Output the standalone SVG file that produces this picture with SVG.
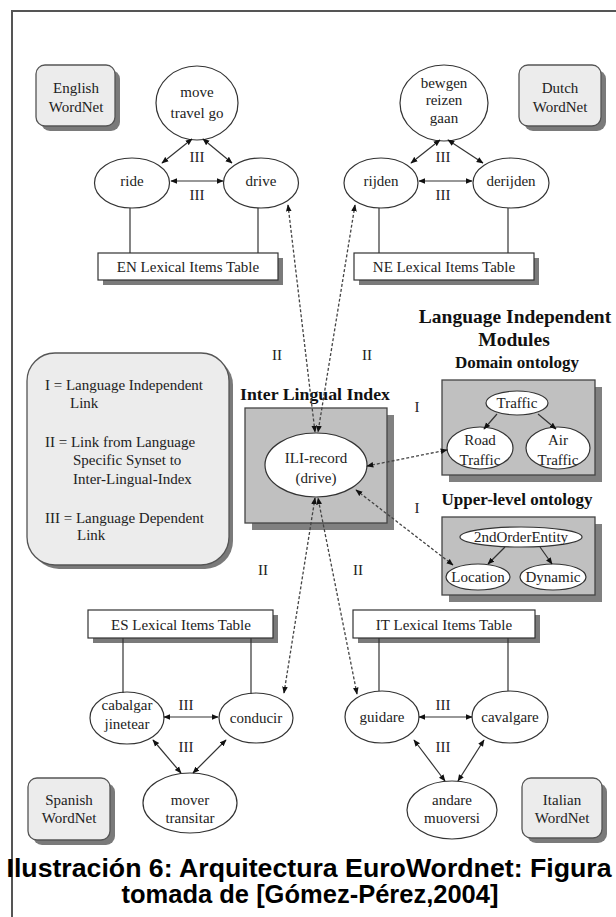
<svg xmlns="http://www.w3.org/2000/svg" width="616" height="917" viewBox="0 0 616 917">
<style>
.t{font-family:"Liberation Serif","Times New Roman",serif;font-size:15px;fill:#222;text-anchor:middle}
.tl{font-family:"Liberation Serif","Times New Roman",serif;font-size:15px;fill:#222}
.b{font-family:"Liberation Serif","Times New Roman",serif;font-weight:bold;fill:#111;text-anchor:middle}
.cap{font-family:"Liberation Sans",Arial,sans-serif;font-weight:bold;font-size:25.5px;fill:#000;text-anchor:middle}
.ell{fill:#fff;stroke:#333;stroke-width:1.2}
.wn{fill:#ececec;stroke:#555;stroke-width:1.3}
.sh{fill:#7a7a7a}
.tab{fill:#fff;stroke:#333;stroke-width:1.2}
.gbox{fill:#c0c0c0;stroke:#444;stroke-width:1.3}
.gsh{fill:#808080}
.ln{stroke:#333;stroke-width:1.2;fill:none}
.ar{stroke:#333;stroke-width:1.2;fill:none;marker-start:url(#ah);marker-end:url(#ah)}
.ar1{stroke:#333;stroke-width:1.2;fill:none;marker-end:url(#ah)}
.da{stroke:#444;stroke-width:1.3;stroke-dasharray:3 2;fill:none;marker-start:url(#ah);marker-end:url(#ah)}
</style>
<defs>
<marker id="ah" viewBox="0 0 10 10" refX="9" refY="5" markerWidth="7" markerHeight="7" markerUnits="userSpaceOnUse" orient="auto-start-reverse">
<path d="M0,1 L10,5 L0,9 Z" fill="#111"/>
</marker>
</defs>
<rect width="616" height="917" fill="#fff"/>
<path d="M12,917 V11 H616" fill="none" stroke="#555" stroke-width="2"/>

<g id="english-wordnet">
<rect class="sh" x="41" y="70" width="79" height="61" rx="9"/>
<rect class="wn" x="36" y="65" width="79" height="61" rx="9"/>
<text class="t" x="76" y="93">English</text>
<text class="t" x="76" y="112">WordNet</text>
</g>
<g id="move">
<ellipse class="ell" cx="197" cy="103" rx="41" ry="37"/>
<text class="t" x="197" y="97">move</text>
<text class="t" x="197" y="118">travel go</text>
</g>
<g id="ride"><ellipse class="ell" cx="132" cy="183" rx="37.5" ry="25"/><text class="t" x="132" y="186">ride</text></g>
<g id="drive"><ellipse class="ell" cx="261" cy="183" rx="37.5" ry="25"/><text class="t" x="261" y="186">drive</text></g>
<g id="en-table">
<rect class="sh" x="103" y="258" width="180" height="27"/>
<rect class="tab" x="98" y="253" width="180" height="27"/>
<text class="t" x="188" y="272">EN Lexical Items Table</text>
</g>

<g id="dutch-wordnet">
<rect class="sh" x="524" y="70" width="82" height="61" rx="9"/>
<rect class="wn" x="519" y="65" width="82" height="61" rx="9"/>
<text class="t" x="560" y="93">Dutch</text>
<text class="t" x="560" y="112">WordNet</text>
</g>
<g id="bewgen">
<ellipse class="ell" cx="444" cy="103" rx="44" ry="38"/>
<text class="t" x="444" y="88">bewgen</text>
<text class="t" x="444" y="105">reizen</text>
<text class="t" x="444" y="123">gaan</text>
</g>
<g id="rijden"><ellipse class="ell" cx="381" cy="183" rx="37" ry="25"/><text class="t" x="381" y="186">rijden</text></g>
<g id="derijden"><ellipse class="ell" cx="511" cy="183" rx="38" ry="25"/><text class="t" x="511" y="186">derijden</text></g>
<g id="ne-table">
<rect class="sh" x="359" y="258" width="180" height="27"/>
<rect class="tab" x="354" y="253" width="180" height="27"/>
<text class="t" x="444" y="272">NE Lexical Items Table</text>
</g>

<g id="legend">
<rect class="sh" x="31" y="357" width="202" height="212" rx="28"/>
<rect class="wn" x="27" y="353" width="202" height="212" rx="28"/>
<text class="tl" x="45" y="390">I = Language Independent</text>
<text class="tl" x="70" y="408">Link</text>
<text class="tl" x="45" y="447">II = Link from Language</text>
<text class="tl" x="73" y="465">Specific Synset to</text>
<text class="tl" x="73" y="484">Inter-Lingual-Index</text>
<text class="tl" x="45" y="523">III = Language Dependent</text>
<text class="tl" x="77" y="540">Link</text>
</g>

<g id="ili">
<text class="b" x="315" y="400" font-size="16.5" textLength="150" lengthAdjust="spacingAndGlyphs">Inter Lingual Index</text>
<rect class="gsh" x="252" y="415" width="142" height="115"/>
<rect class="gbox" x="245" y="408" width="142" height="115"/>
<ellipse class="ell" cx="316" cy="465" rx="51" ry="32"/>
<text class="t" x="316" y="463">ILI-record</text>
<text class="t" x="316" y="483">(drive)</text>
</g>

<g id="modules-title">
<text class="b" x="515" y="323" font-size="19.5">Language Independent</text>
<text class="b" x="514" y="346" font-size="19.5">Modules</text>
</g>
<g id="domain-ontology">
<text class="b" x="517" y="368" font-size="17">Domain ontology</text>
<rect class="gsh" x="449" y="387" width="153" height="95"/>
<rect class="gbox" x="442" y="380" width="153" height="95"/>
<ellipse class="ell" cx="517" cy="403" rx="31" ry="12"/>
<text class="t" x="517" y="408">Traffic</text>
<ellipse class="ell" cx="480" cy="448" rx="33" ry="21"/>
<text class="t" x="480" y="445">Road</text>
<text class="t" x="480" y="465">Traffic</text>
<ellipse class="ell" cx="558" cy="448" rx="32" ry="21"/>
<text class="t" x="558" y="445">Air</text>
<text class="t" x="558" y="465">Traffic</text>
</g>
<g id="upper-ontology">
<text class="b" x="517" y="505" font-size="17">Upper-level ontology</text>
<rect class="gsh" x="449" y="524" width="153" height="78"/>
<rect class="gbox" x="442" y="517" width="153" height="78"/>
<ellipse class="ell" cx="521" cy="537" rx="61" ry="10"/>
<text class="t" x="521" y="542">2ndOrderEntity</text>
<ellipse class="ell" cx="478" cy="577" rx="32" ry="13"/>
<text class="t" x="478" y="582">Location</text>
<ellipse class="ell" cx="553" cy="577" rx="33" ry="13"/>
<text class="t" x="553" y="582">Dynamic</text>
</g>

<g id="es-table">
<rect class="sh" x="93" y="615" width="185" height="28"/>
<rect class="tab" x="88" y="610" width="185" height="28"/>
<text class="t" x="181" y="630">ES Lexical Items Table</text>
</g>
<g id="cabalgar">
<ellipse class="ell" cx="127" cy="718" rx="37" ry="26"/>
<text class="t" x="127" y="710">cabalgar</text>
<text class="t" x="127" y="729">jinetear</text>
</g>
<g id="conducir"><ellipse class="ell" cx="256" cy="718" rx="37" ry="25"/><text class="t" x="256" y="723">conducir</text></g>
<g id="mover">
<ellipse class="ell" cx="190" cy="803" rx="47" ry="30"/>
<text class="t" x="190" y="805">mover</text>
<text class="t" x="190" y="823">transitar</text>
</g>
<g id="spanish-wordnet">
<rect class="sh" x="33" y="783" width="82" height="62" rx="9"/>
<rect class="wn" x="28" y="778" width="82" height="62" rx="9"/>
<text class="t" x="69" y="805">Spanish</text>
<text class="t" x="69" y="823">WordNet</text>
</g>

<g id="it-table">
<rect class="sh" x="358" y="615" width="182" height="28"/>
<rect class="tab" x="353" y="610" width="182" height="28"/>
<text class="t" x="444" y="630">IT Lexical Items Table</text>
</g>
<g id="guidare"><ellipse class="ell" cx="382" cy="717" rx="37" ry="26"/><text class="t" x="382" y="722">guidare</text></g>
<g id="cavalgare"><ellipse class="ell" cx="510" cy="717" rx="38" ry="26"/><text class="t" x="510" y="722">cavalgare</text></g>
<g id="andare">
<ellipse class="ell" cx="452" cy="810" rx="45" ry="29"/>
<text class="t" x="452" y="805">andare</text>
<text class="t" x="452" y="823">muoversi</text>
</g>
<g id="italian-wordnet">
<rect class="sh" x="527" y="783" width="80" height="60" rx="9"/>
<rect class="wn" x="522" y="778" width="80" height="60" rx="9"/>
<text class="t" x="562" y="805">Italian</text>
<text class="t" x="562" y="823">WordNet</text>
</g>

<g id="connectors">
<line class="ln" x1="130" y1="208" x2="130" y2="253"/>
<line class="ln" x1="258" y1="208" x2="258" y2="253"/>
<line class="ln" x1="379" y1="208" x2="379" y2="253"/>
<line class="ln" x1="508" y1="208" x2="508" y2="253"/>
<line class="ln" x1="123" y1="638" x2="123" y2="693"/>
<line class="ln" x1="251" y1="638" x2="251" y2="694"/>
<line class="ln" x1="379" y1="638" x2="379" y2="691"/>
<line class="ln" x1="508" y1="638" x2="508" y2="691"/>
<line class="ar" x1="171" y1="181" x2="223" y2="181"/>
<line class="ar" x1="192" y1="139" x2="162" y2="163"/>
<line class="ar" x1="203" y1="139" x2="232" y2="163"/>
<line class="ar" x1="419" y1="181" x2="472" y2="181"/>
<line class="ar" x1="440" y1="140" x2="411" y2="163"/>
<line class="ar" x1="448" y1="140" x2="483" y2="163"/>
<line class="ar" x1="164" y1="717" x2="218" y2="717"/>
<line class="ar" x1="181" y1="773" x2="153" y2="740"/>
<line class="ar" x1="193" y1="773" x2="226" y2="740"/>
<line class="ar" x1="419" y1="717" x2="472" y2="717"/>
<line class="ar" x1="445" y1="781" x2="414" y2="740"/>
<line class="ar" x1="458" y1="781" x2="484" y2="740"/>
<line class="ar1" x1="497" y1="414" x2="484" y2="429"/>
<line class="ar1" x1="538" y1="414" x2="556" y2="429"/>
<line class="ar1" x1="505" y1="547" x2="488" y2="564"/>
<line class="ar1" x1="540" y1="547" x2="552" y2="564"/>
<line class="da" x1="288" y1="205" x2="315" y2="432"/>
<line class="da" x1="355" y1="205" x2="318" y2="432"/>
<line class="da" x1="284" y1="693" x2="315" y2="498"/>
<line class="da" x1="357" y1="694" x2="318" y2="498"/>
<line class="da" x1="367" y1="466" x2="447" y2="450"/>
<line class="da" x1="356" y1="490" x2="453" y2="565"/>
<text class="t" x="197" y="162">III</text>
<text class="t" x="197" y="200">III</text>
<text class="t" x="443" y="162">III</text>
<text class="t" x="443" y="200">III</text>
<text class="t" x="186" y="710">III</text>
<text class="t" x="186" y="752">III</text>
<text class="t" x="443" y="710">III</text>
<text class="t" x="443" y="752">III</text>
<text class="t" x="277" y="360">II</text>
<text class="t" x="367" y="360">II</text>
<text class="t" x="263" y="575">II</text>
<text class="t" x="358" y="575">II</text>
<text class="t" x="417" y="412">I</text>
<text class="t" x="417" y="513">I</text>
</g>

<g id="caption">
<text class="cap" x="309" y="877" textLength="605" lengthAdjust="spacingAndGlyphs">Ilustración 6: Arquitectura EuroWordnet: Figura</text>
<text class="cap" x="310" y="903">tomada de [Gómez-Pérez,2004]</text>
</g>
</svg>
